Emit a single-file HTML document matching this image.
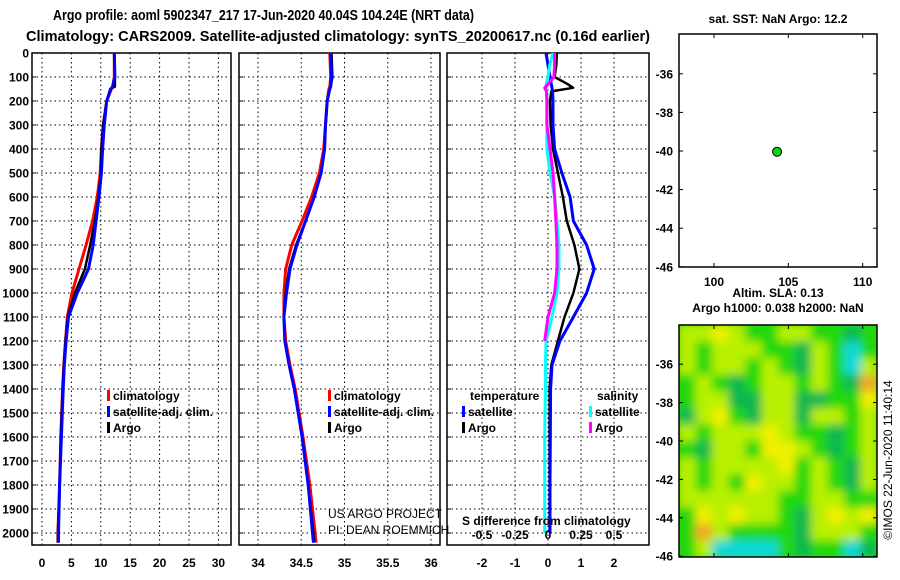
<!DOCTYPE html>
<html><head><meta charset="utf-8"><style>
body{margin:0;background:#fff}
svg{display:block;font-family:"Liberation Sans",sans-serif}
.b{font-weight:bold;font-size:12px}
</style></head><body>
<svg id="c" width="900" height="580" viewBox="0 0 900 580">
<defs>
<filter id="bl" x="0" y="0" width="1" height="1"><feGaussianBlur stdDeviation="4.5"/></filter>
<clipPath id="mc"><rect x="679" y="325" width="198" height="232"/></clipPath>
</defs>
<text x="53" y="20" font-size="15" font-weight="bold" textLength="421" lengthAdjust="spacingAndGlyphs">Argo profile: aoml 5902347_217 17-Jun-2020 40.04S 104.24E (NRT data)</text>
<text x="26" y="41" font-size="15" font-weight="bold" textLength="624" lengthAdjust="spacingAndGlyphs">Climatology: CARS2009. Satellite-adjusted climatology: synTS_20200617.nc (0.16d earlier)</text>
<g id="g"></g>
<text x="778" y="23" text-anchor="middle" class="b">sat. SST: NaN Argo: 12.2</text>
<text x="778" y="297" text-anchor="middle" class="b">Altim. SLA: 0.13</text>
<text x="778" y="312" text-anchor="middle" class="b">Argo h1000: 0.038 h2000: NaN</text>
<text transform="translate(892,460) rotate(-90)" text-anchor="middle" font-size="12">©IMOS 22-Jun-2020 11:40:14</text>
<text x="328" y="518" font-size="12">US ARGO PROJECT</text>
<text x="328" y="534" font-size="12">PI: DEAN ROEMMICH</text>
</svg>
<script>
const tDepth=[0,100,140,150,200,300,400,500,600,700,800,900,1000,1100,1200,1300,1400,1600,1800,2000,2040];
const argoT=[12.3,12.4,12.4,11.6,11.0,10.4,10.1,10.0,9.6,9.0,8.2,7.3,5.6,4.4,4.0,3.7,3.5,3.2,3.0,2.7,2.7];
const climT=[12.3,12.3,12.0,11.8,11.0,10.4,10.1,9.9,9.4,8.6,7.5,6.3,5.1,4.3,4.0,3.7,3.5,3.2,3.0,2.7,2.7];
const satT=[12.3,12.4,12.0,11.7,11.0,10.6,10.3,10.1,9.7,9.2,8.7,7.9,6.0,4.5,4.1,3.8,3.6,3.3,3.0,2.8,2.8];
const argoS=[34.85,34.86,34.84,34.83,34.80,34.78,34.77,34.73,34.65,34.55,34.44,34.36,34.32,34.30,34.31,34.36,34.42,34.51,34.58,34.64,34.65];
const climS=[34.83,34.84,34.83,34.82,34.80,34.78,34.76,34.71,34.62,34.51,34.39,34.32,34.30,34.30,34.32,34.37,34.43,34.52,34.60,34.66,34.67];
const satS=[34.84,34.85,34.84,34.83,34.80,34.78,34.77,34.73,34.65,34.55,34.45,34.37,34.33,34.30,34.31,34.36,34.42,34.51,34.58,34.63,34.64];
const dDepth=[0,50,100,130,145,160,200,300,400,500,600,700,800,900,1000,1100,1200,1300,1400,1600,1800,2000];
const argoTd=[0.27,0.25,0.2,0.6,0.76,0.1,0.06,0.08,0.15,0.3,0.45,0.57,0.8,0.95,0.77,0.5,0.3,0.1,0.05,0.05,0.05,0.05];
const satTd=[-0.06,0.0,0.06,0.1,0.12,0.14,0.15,0.15,0.2,0.42,0.67,0.77,1.17,1.4,1.17,0.77,0.36,0.12,0.08,0.07,0.06,0.06];
const satSd=[0.038,0.013,0,-0.013,-0.013,-0.008,-0.008,-0.008,-0.008,0.015,0.05,0.068,0.083,0.083,0.068,0.03,-0.015,-0.02,-0.02,-0.025,-0.025,-0.025];
const argoSd=[0.05,0.05,0.045,0,-0.025,-0.012,-0.008,-0.008,0.015,0.038,0.05,0.06,0.068,0.068,0.05,0,-0.025];
const depthTicks=[0,100,200,300,400,500,600,700,800,900,1000,1100,1200,1300,1400,1500,1600,1700,1800,1900,2000];
const tTicks=[0,5,10,15,20,25,30];
const sTicks=[34,34.5,35,35.5,36];
const dTicks=[-2,-1,0,1,2];
const sdTickLabels=["-0.5","-0.25","0","0.25","0.5"];
const latTicks=[-36,-38,-40,-42,-44,-46];
const lonTicks=[100,105,110];
const floatLon=[104.24];
const floatLat=[-40.04];
const slaGrid=[
[3,3,4,3,2,2,3,3,2,2,1,2],[3,2,3,3,3,2,2,1,3,2,0,2],[3,2,3,3,2,3,2,1,3,2,0,3],
[2,3,2,1,2,3,3,2,3,2,1,5],[2,3,3,1,1,3,3,1,1,2,2,4],[1,3,4,2,1,3,3,1,3,3,2,3],
[3,2,3,3,3,4,3,2,2,1,2,3],[2,1,3,3,2,4,4,3,2,1,2,3],[3,2,3,3,3,3,4,2,3,2,1,3],
[3,2,3,2,4,3,3,2,3,2,1,3],[3,3,3,3,3,3,2,2,3,3,2,2],[2,4,3,4,3,3,2,1,3,4,3,4],
[2,5,3,2,2,2,2,1,3,3,3,2],[2,3,0,0,0,0,2,1,2,2,0,1]];
const slaColors=["#10d8d8","#10b850","#20d810","#b8f000","#f0f000","#f0a820"];

const NS="http://www.w3.org/2000/svg";
const G=document.getElementById('g');
function mk(t,a,p){const e=document.createElementNS(NS,t);for(const k in a)e.setAttribute(k,a[k]);(p||G).appendChild(e);return e;}
const yD=d=>53+d*0.24;
const xT=t=>42+t*5.88;
const xS=s=>258+(s-34)*86.5;
const xD=d=>548+d*33;
const xSd=s=>548+s*4*33;
const panels=[{x0:32,x1:231,f:xT,ticks:tTicks,name:'temperature'},{x0:239,x1:440,f:xS,ticks:sTicks,name:'salinity'},{x0:447,x1:649,f:xD,ticks:dTicks,name:'difference'}];
panels.forEach((p,i)=>{
  depthTicks.forEach(d=>{const l=mk('line',{x1:p.x0,x2:p.x1,y1:yD(d),y2:yD(d),stroke:'#000','stroke-width':1,'stroke-dasharray':'1.5 3'});
    
    
    mk('line',{x1:p.x0,x2:p.x0+4,y1:yD(d),y2:yD(d),stroke:'#000'});});
  p.ticks.forEach((v,j)=>{const x=p.f(v);
    const l=mk('line',{x1:x,x2:x,y1:53,y2:545,stroke:'#000','stroke-width':1,'stroke-dasharray':'1.5 3'});
    
    
    const t=mk('text',{x:x,y:567,'text-anchor':'middle',class:'b'});t.textContent=String(v);
    
    });
  const r=mk('rect',{x:p.x0,y:53,width:p.x1-p.x0,height:492,fill:'none',stroke:'#000','stroke-width':1.5});
  
  
});
depthTicks.forEach(d=>{const t=mk('text',{x:29,y:yD(d)+4.5,'text-anchor':'end',class:'b'});t.textContent=String(d);
  
  });
function line(ds,vs,fx,col,w,name){const pts=vs.map((v,i)=>fx(v).toFixed(1)+','+yD(ds[i]).toFixed(1)).join(' ');
  const e=mk('polyline',{points:pts,fill:'none',stroke:col,'stroke-width':w,'stroke-linejoin':'round'});
  
  }
line(tDepth,climT,xT,'#f00',3,'temp-climatology-line');
line(tDepth,argoT,xT,'#000',2.5,'temp-argo-line');
line(tDepth,satT,xT,'#00f',3,'temp-satellite-line');
line(tDepth,climS,xS,'#f00',3,'sal-climatology-line');
line(tDepth,argoS,xS,'#000',2.5,'sal-argo-line');
line(tDepth,satS,xS,'#00f',3,'sal-satellite-line');
line(dDepth,argoTd,xD,'#000',2.5,'tdiff-argo-line');
line(dDepth,satTd,xD,'#00f',3,'tdiff-satellite-line');
line(dDepth,satSd,xSd,'#0ff',3,'sdiff-satellite-line');
line(dDepth.slice(0,argoSd.length),argoSd,xSd,'#f0f',3,'sdiff-argo-line');
function leg(x,y,col,txt){mk('rect',{x:x,y:y-10,width:3,height:11,fill:col});
  const t=mk('text',{x:x+6,y:y,class:'b'});t.textContent=txt;
  
  }
[[107,'climatology','#f00'],[107,'satellite-adj. clim.','#00f'],[107,'Argo','#000']].forEach((a,i)=>leg(a[0],400+i*16,a[2],a[1]));
[[328,'climatology','#f00'],[328,'satellite-adj. clim.','#00f'],[328,'Argo','#000']].forEach((a,i)=>leg(a[0],400+i*16,a[2],a[1]));
let t=mk('text',{x:470,y:400,class:'b'});t.textContent='temperature';
t=mk('text',{x:597,y:400,class:'b'});t.textContent='salinity';
leg(462,416,'#00f','satellite');leg(462,432,'#000','Argo');
leg(589,416,'#0ff','satellite');leg(589,432,'#f0f','Argo');
t=mk('text',{x:462,y:525,class:'b'});t.textContent='S difference from climatology';


sdTickLabels.forEach(s=>{const e=mk('text',{x:xSd(parseFloat(s)),y:539,'text-anchor':'middle',class:'b'});e.textContent=s;
  
  });
const lonX=l=>714+(l-100)*14.87;
const latY1=l=>151+(-40-l)*19.3;
const latY2=l=>441+(-40-l)*19.2;
const hm=mk('g',{'clip-path':'url(#mc)'});


const inner=mk('g',{filter:'url(#bl)'},hm);
mk('rect',{x:670,y:315,width:220,height:250,fill:'#20d810'},inner);
const cw=198/12,ch=232/14;
slaGrid.forEach((row,r)=>row.forEach((v,c)=>{const e=mk('rect',{x:679+c*cw,y:325+r*ch,width:cw+0.5,height:ch+0.5,fill:slaColors[v]},inner);
  
  }));
[[34,267,latY1,'position-map'],[325,557,latY2,'sla-map']].forEach(([y0,y1,fy,nm])=>{
  const r=mk('rect',{x:679,y:y0,width:198,height:y1-y0,fill:'none',stroke:'#000','stroke-width':1.5});
  
  
  latTicks.forEach(l=>{const y=fy(l);mk('line',{x1:679,x2:683,y1:y,y2:y,stroke:'#000'});mk('line',{x1:873,x2:877,y1:y,y2:y,stroke:'#000'});
    const e=mk('text',{x:673,y:y+4.5,'text-anchor':'end',class:'b'});e.textContent=String(l);
    
    });
  lonTicks.forEach(l=>{const x=lonX(l);mk('line',{x1:x,x2:x,y1:y0,y2:y0+4,stroke:'#000'});mk('line',{x1:x,x2:x,y1:y1-4,y2:y1,stroke:'#000'});});
});
lonTicks.forEach(l=>{const e=mk('text',{x:lonX(l),y:286,'text-anchor':'middle',class:'b'});e.textContent=String(l);
  
  });
floatLon.forEach((l,i)=>{const e=mk('circle',{cx:lonX(l),cy:latY1(floatLat[i]),r:4.5,fill:'#10d010',stroke:'#000','stroke-width':1});
  
  });
</script>
</body></html>
